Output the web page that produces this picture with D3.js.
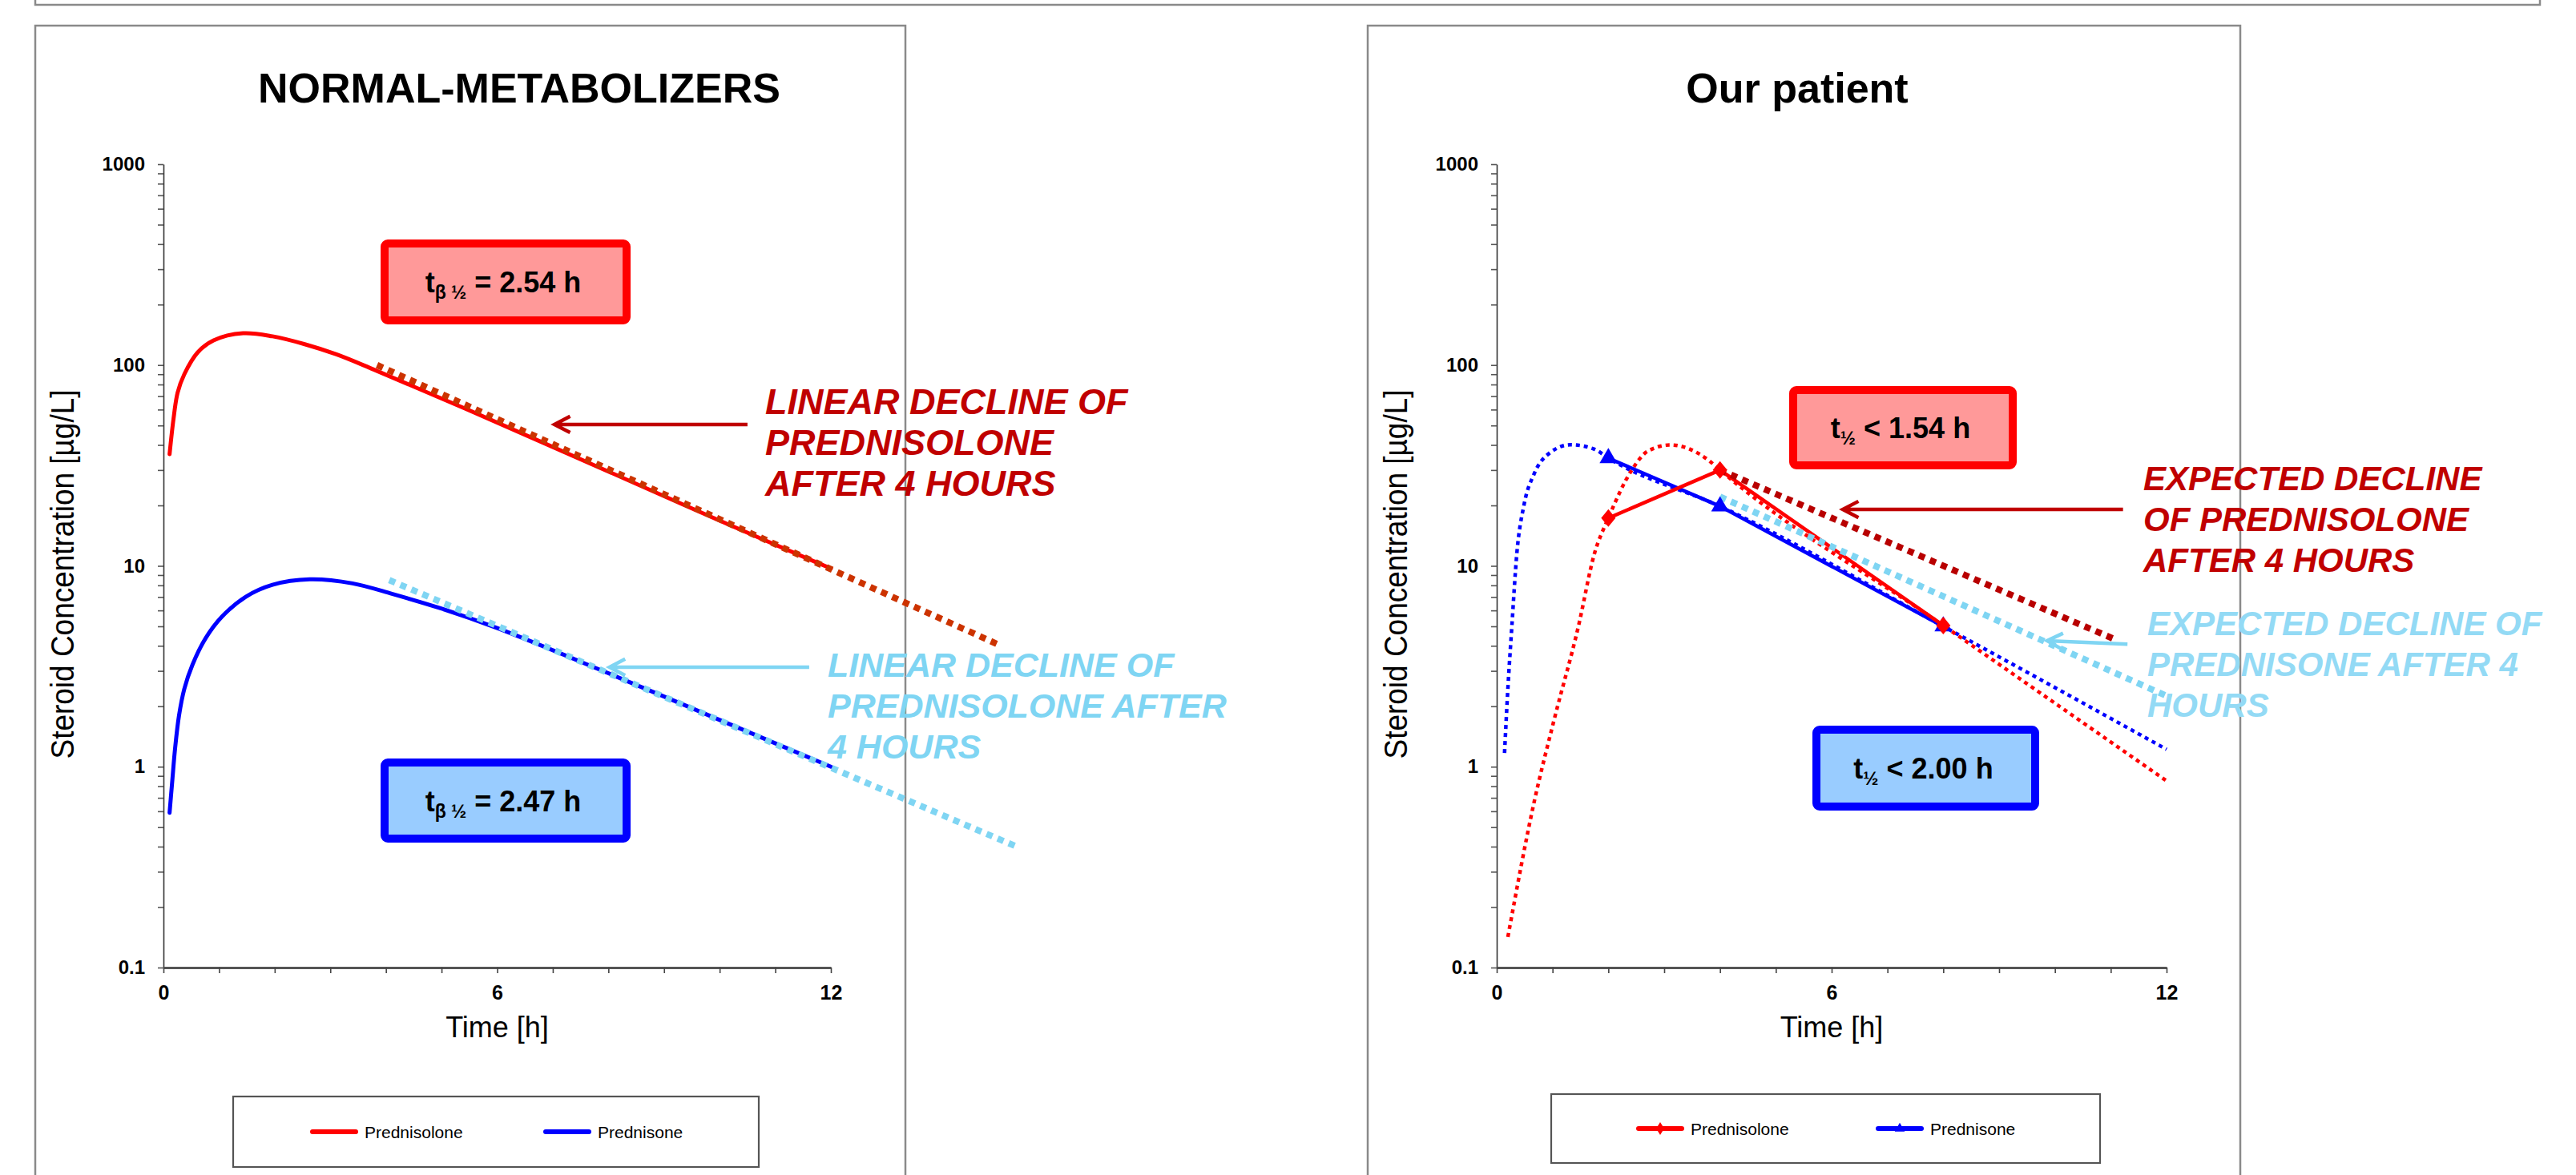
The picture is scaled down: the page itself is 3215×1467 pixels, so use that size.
<!DOCTYPE html>
<html>
<head>
<meta charset="utf-8">
<script src="https://cdn.jsdelivr.net/npm/d3@7"></script>
<style>
  body { margin: 0; background: #fff; }
  svg { display: block; }
  text { font-family: "Liberation Sans", Arial, Helvetica, sans-serif; }
</style>
</head>
<body>
<svg id="chart" width="3215" height="1467"></svg>
<script>
// ---- axes ----
const xTickValues = [0, 1, 2, 3, 4, 5, 6, 7, 8, 9, 10, 11, 12];
const xTickLabels = [0, 6, 12];
const yDecades = [0.1, 1, 10, 100, 1000];

// ---- NORMAL-METABOLIZERS (time [h], concentration [µg/L]) ----
const normalPrednisolone = [[0.11, 36], [0.18, 53.7], [0.255, 73], [0.375, 90], [0.615, 115.6], [0.9, 132.6],
  [1.43, 144], [1.96, 139], [2.54, 127], [3.11, 113], [3.78, 95], [5.42, 60.8], [8, 29.5], [10, 16.8], [12, 9.7]];
const normalPrednisone = [[0.11, 0.59], [0.16, 0.86], [0.21, 1.24], [0.28, 1.8], [0.375, 2.44], [0.52, 3.21],
  [0.76, 4.37], [1.05, 5.58], [1.48, 7.02], [1.96, 8.05], [2.63, 8.57], [3.4, 8.18], [4.12, 7.24], [4.98, 6.15],
  [6, 4.9], [8, 2.92], [10, 1.71], [12, 1.0]];
const linearPrednisolone = [[3.84, 100], [15.06, 4.0]];
const linearPrednisone = [[4.06, 8.5], [15.34, 0.4]];
const normalHalfLives = ['2.54', '2.47'];

// ---- Our patient ----
const patientPrednisolone = [[2, 17.3], [4, 30.0], [8, 5.05]];
const patientPrednisone = [[2, 34.4], [4, 19.8], [8, 5.0]];
const fitPrednisolone = [[0.2, 0.142], [0.675, 0.676], [1.03, 1.72], [1.46, 4.95], [1.75, 11.5], [2.0, 17.3],
  [2.42, 30], [2.71, 37.3], [3.11, 40], [3.8, 33.5], [4, 30], [8, 5.05], [12, 0.85]];
const fitPrednisone = [[0.14, 1.17], [0.2, 2.45], [0.27, 4.95], [0.36, 11.5], [0.49, 20.2], [0.67, 28.7],
  [0.96, 36.7], [1.32, 40.1], [1.75, 38.1], [2, 34.4], [4, 19.8], [8, 5.0], [12, 1.22]];
const expectedPrednisolone = [[4, 30], [11.08, 4.3]];
const expectedPrednisone = [[4, 22.1], [12.08, 2.2]];
const patientHalfLives = ['1.54', '2.00'];

// ---- texts ----
const titles = ['NORMAL-METABOLIZERS', 'Our patient'];
const seriesNames = ['Prednisolone', 'Prednisone'];
const leftRedNote = ['LINEAR DECLINE OF', 'PREDNISOLONE', 'AFTER 4 HOURS'];
const leftBlueNote = ['LINEAR DECLINE OF', 'PREDNISOLONE AFTER', '4 HOURS'];
const rightRedNote = ['EXPECTED DECLINE', 'OF PREDNISOLONE', 'AFTER 4 HOURS'];
const rightBlueNote = ['EXPECTED DECLINE OF', 'PREDNISONE AFTER 4', 'HOURS'];

const RED = '#ff0000', BLUE = '#0000ff', DARKRED = '#c00000', SKY = '#7fd5f3';

const svg = d3.select('#chart');

// strip of the frame above the panels
svg.append('rect')
  .attr('x', 44).attr('y', -30).attr('width', 3126).attr('height', 36)
  .attr('fill', 'none').attr('stroke', '#8a8a8a').attr('stroke-width', 2.5);

function multiline(g, lines, x, y0, color, size) {
  const t = g.append('text')
    .attr('x', x).attr('y', y0)
    .attr('fill', color)
    .style('font-size', size + 'px').style('font-weight', 'bold').style('font-style', 'italic');
  lines.forEach((s, i) => t.append('tspan').attr('x', x).attr('dy', i ? 51 : 0).text(s));
}

function arrow(g, x, y, a, color) {
  const x1 = x(a.from[0]), y1 = y(a.from[1]);
  const x2 = x(a.to[0]), y2 = y(a.to[1]);
  const ang = Math.atan2(y1 - y2, x1 - x2);
  const len = 22, spread = 0.48;
  const h1 = [x2 + len * Math.cos(ang + spread), y2 + len * Math.sin(ang + spread)];
  const h2 = [x2 + len * Math.cos(ang - spread), y2 + len * Math.sin(ang - spread)];
  g.append('path')
    .attr('d', `M${x1},${y1}L${x2},${y2}M${h1}L${x2},${y2}L${h2}`)
    .attr('fill', 'none').attr('stroke', color).attr('stroke-width', 4.5);
}

function halfLifeBox(g, b, sub, rel, value, stroke, fill) {
  g.append('rect')
    .attr('x', b.x).attr('y', b.y).attr('width', b.w).attr('height', b.h).attr('rx', 4)
    .attr('fill', fill).attr('stroke', stroke).attr('stroke-width', 10);
  const t = g.append('text')
    .attr('x', b.x + b.w / 2 - 3).attr('y', b.base).attr('text-anchor', 'middle')
    .style('font-size', '36px').style('font-weight', 'bold');
  t.append('tspan').text('t');
  t.append('tspan').attr('dy', 8).style('font-size', '23px').text(sub);
  t.append('tspan').attr('dy', -8).text(` ${rel} ${value} h`);
}

const diamond = 'M0,-11L9,0L0,11L-9,0Z';

function drawPanel(p) {
  const g = svg.append('g');
  g.append('rect')
    .attr('x', p.frame[0]).attr('y', 32).attr('width', p.frame[1] - p.frame[0]).attr('height', 1500)
    .attr('fill', 'none').attr('stroke', '#8a8a8a').attr('stroke-width', 2.5);

  const x = d3.scaleLinear().domain([0, 12]).range(p.xRange);
  const y = d3.scaleLog().domain([0.1, 1000]).range([1208, 205]);

  // title
  g.append('text')
    .attr('x', p.titleX).attr('y', 128).attr('text-anchor', 'middle')
    .style('font-size', '52px').style('font-weight', 'bold')
    .text(p.title);

  // y axis with minor ticks
  const yTicks = [];
  yDecades.slice(0, -1).forEach(d => { for (let k = 1; k < 10; k++) yTicks.push(d * k); });
  yTicks.push(1000);
  const ya = g.append('g')
    .attr('transform', `translate(${p.xRange[0]},0)`)
    .call(d3.axisLeft(y).tickValues(yTicks).tickSize(7).tickSizeOuter(0).tickPadding(16)
      .tickFormat(d => (yDecades.includes(d) ? String(d) : '')));
  ya.select('.domain').attr('stroke', '#333').attr('stroke-width', 1.6);
  ya.selectAll('.tick line').attr('stroke', '#555').attr('stroke-width', 1.6);
  ya.selectAll('.tick text')
    .style('font-size', '24px').style('font-weight', 'bold').attr('fill', '#000')
    .style('font-family', '"Liberation Sans", Arial, sans-serif');

  // x axis
  const xa = g.append('g')
    .attr('transform', 'translate(0,1208)')
    .call(d3.axisBottom(x).tickValues(xTickValues).tickSize(7).tickSizeOuter(0).tickPadding(15)
      .tickFormat(d => (xTickLabels.includes(d) ? String(d) : '')));
  xa.select('.domain').attr('stroke', '#555').attr('stroke-width', 3);
  xa.selectAll('.tick line').attr('stroke', '#444').attr('stroke-width', 1.6);
  xa.selectAll('.tick text')
    .style('font-size', '25px').style('font-weight', 'bold').attr('fill', '#000')
    .style('font-family', '"Liberation Sans", Arial, sans-serif');

  // axis titles
  g.append('text')
    .attr('x', (p.xRange[0] + p.xRange[1]) / 2).attr('y', 1295).attr('text-anchor', 'middle')
    .style('font-size', '36px')
    .text('Time [h]');
  g.append('text')
    .attr('transform', `translate(${p.xRange[0] - 112},717) rotate(-90)`)
    .attr('text-anchor', 'middle')
    .attr('textLength', 461).attr('lengthAdjust', 'spacingAndGlyphs')
    .style('font-size', '40px')
    .text('Steroid Concentration [µg/L]');

  // legend
  const L = p.legend;
  g.append('rect')
    .attr('x', L.x).attr('y', L.y).attr('width', L.w).attr('height', L.h)
    .attr('fill', '#fff').attr('stroke', '#555').attr('stroke-width', 2.2);
  const ly = L.y + L.h / 2;
  [[RED, L.items[0]], [BLUE, L.items[1]]].forEach(([c, lx], i) => {
    g.append('line')
      .attr('x1', lx).attr('x2', lx + 54).attr('y1', ly).attr('y2', ly)
      .attr('stroke', c).attr('stroke-width', 6).attr('stroke-linecap', 'round');
    if (p.markers) {
      g.append('path')
        .attr('transform', `translate(${lx + 27},${ly})`)
        .attr('d', i === 0 ? 'M0,-8L5,0L0,8L-5,0Z' : d3.symbol(d3.symbolTriangle, 70)())
        .attr('fill', c);
    }
    g.append('text')
      .attr('x', lx + 65).attr('y', ly + 7.5)
      .style('font-size', '21px')
      .text(seriesNames[i]);
  });

  return { g, x, y };
}

// ---------- left panel ----------
const left = drawPanel({
  frame: [44, 1130], xRange: [204, 1037], titleX: 648, title: titles[0],
  legend: { x: 291, y: 1369, w: 656, h: 88, items: [390, 681] }, markers: false
});
{
  const { g, x, y } = left;
  const line = d3.line().x(d => x(d[0])).y(d => y(d[1])).curve(d3.curveCatmullRom.alpha(0.5));
  g.append('path').attr('d', line(normalPrednisolone))
    .attr('fill', 'none').attr('stroke', RED).attr('stroke-width', 5).attr('stroke-linecap', 'round');
  g.append('path').attr('d', line(normalPrednisone))
    .attr('fill', 'none').attr('stroke', BLUE).attr('stroke-width', 5).attr('stroke-linecap', 'round');
  g.append('path').attr('d', line(linearPrednisolone))
    .attr('fill', 'none').attr('stroke', '#cc3300').attr('stroke-width', 8).attr('stroke-dasharray', '8,7');
  g.append('path').attr('d', line(linearPrednisone))
    .attr('fill', 'none').attr('stroke', SKY).attr('stroke-width', 8).attr('stroke-dasharray', '8,7');

  halfLifeBox(g, { x: 480, y: 304, w: 302, h: 96, base: 365 }, 'β ½', '=', normalHalfLives[0], RED, '#ff9999');
  halfLifeBox(g, { x: 480, y: 952, w: 302, h: 95, base: 1013 }, 'β ½', '=', normalHalfLives[1], BLUE, '#99ccff');

  arrow(g, x, y, { from: [10.5, 50.6], to: [7.03, 50.6] }, DARKRED);
  arrow(g, x, y, { from: [11.61, 3.13], to: [8.02, 3.13] }, SKY);
  multiline(g, leftRedNote, 955, 517, DARKRED, 45);
  multiline(g, leftBlueNote, 1033, 845, SKY, 43);
}

// ---------- right panel ----------
const right = drawPanel({
  frame: [1707, 2796], xRange: [1868, 2704], titleX: 2243, title: titles[1],
  legend: { x: 1936, y: 1366, w: 685, h: 86, items: [2045, 2344] }, markers: true
});
{
  const { g, x, y } = right;
  const smooth = d3.line().x(d => x(d[0])).y(d => y(d[1])).curve(d3.curveMonotoneX);
  const straight = d3.line().x(d => x(d[0])).y(d => y(d[1]));

  g.append('path').attr('d', smooth(fitPrednisone))
    .attr('fill', 'none').attr('stroke', BLUE).attr('stroke-width', 4.5).attr('stroke-dasharray', '5,5');
  g.append('path').attr('d', smooth(fitPrednisolone))
    .attr('fill', 'none').attr('stroke', RED).attr('stroke-width', 4.5).attr('stroke-dasharray', '5,5');

  g.append('path').attr('d', straight(patientPrednisone))
    .attr('fill', 'none').attr('stroke', BLUE).attr('stroke-width', 4.5);
  g.append('path').attr('d', straight(patientPrednisolone))
    .attr('fill', 'none').attr('stroke', RED).attr('stroke-width', 4.5);

  g.append('path').attr('d', straight(expectedPrednisolone))
    .attr('fill', 'none').attr('stroke', '#b80000').attr('stroke-width', 8).attr('stroke-dasharray', '8,7');
  g.append('path').attr('d', straight(expectedPrednisone))
    .attr('fill', 'none').attr('stroke', SKY).attr('stroke-width', 8).attr('stroke-dasharray', '8,7');

  g.selectAll('path.tri').data(patientPrednisone).join('path').attr('class', 'tri')
    .attr('transform', d => `translate(${x(d[0])},${y(d[1])})`)
    .attr('d', d3.symbol(d3.symbolTriangle, 210)()).attr('fill', BLUE);
  g.selectAll('path.dia').data(patientPrednisolone).join('path').attr('class', 'dia')
    .attr('transform', d => `translate(${x(d[0])},${y(d[1])})`)
    .attr('d', diamond).attr('fill', RED);

  halfLifeBox(g, { x: 2238, y: 487, w: 274, h: 94, base: 547 }, '½', '<', patientHalfLives[0], RED, '#ff9999');
  halfLifeBox(g, { x: 2267, y: 911, w: 273, h: 96, base: 972 }, '½', '<', patientHalfLives[1], BLUE, '#99ccff');

  arrow(g, x, y, { from: [11.22, 19.1], to: [6.2, 19.1] }, DARKRED);
  arrow(g, x, y, { from: [11.3, 4.08], to: [9.86, 4.24] }, SKY);
  multiline(g, rightRedNote, 2675, 612, DARKRED, 42);
  multiline(g, rightBlueNote, 2680, 793, '#93daf5', 42);
}
</script>
</body>
</html>
